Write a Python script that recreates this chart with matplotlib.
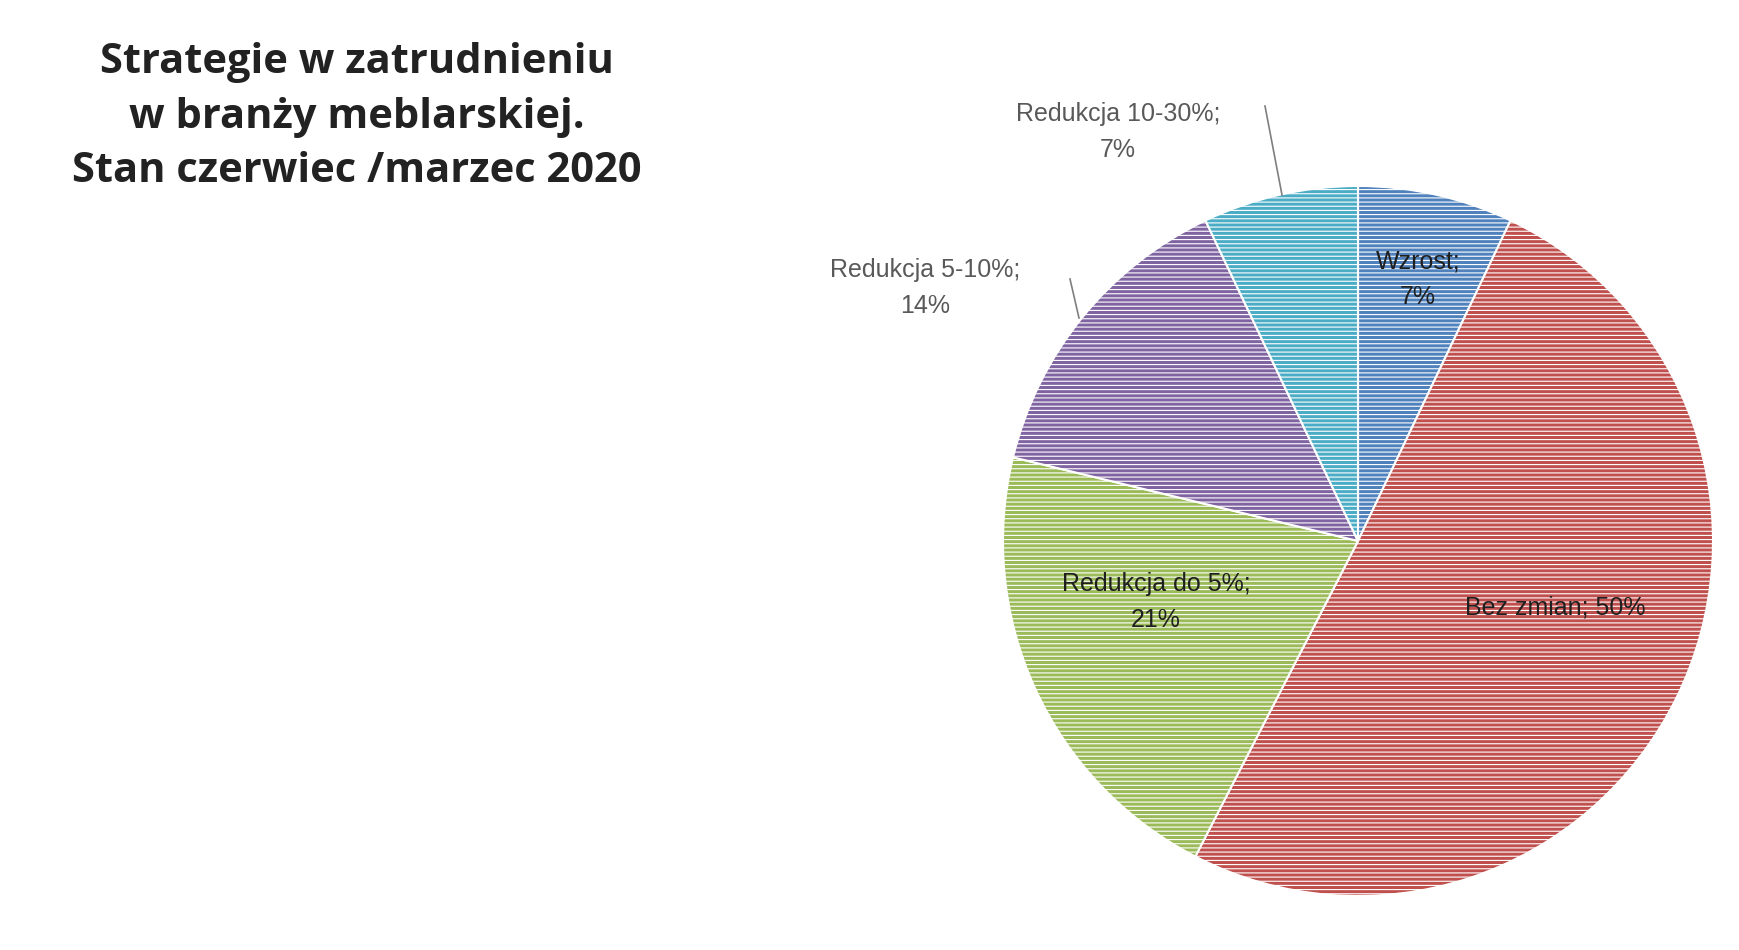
import matplotlib.pyplot as plt

# data
categories = ["Wzrost", "Bez zmian", "Redukcja do 5%", "Redukcja 5-10%", "Redukcja 10-30%"]
values = [7, 50, 21, 14, 7]
colors = ["#4F81BD", "#C0504D", "#9BBB59", "#8064A2", "#4BACC6"]

W, H = 1740, 950
fig = plt.figure(figsize=(W / 100, H / 100), dpi=100)
plt.rcParams["hatch.color"] = (1, 1, 1, 0.35)
plt.rcParams["hatch.linewidth"] = 0.8

# pie centre (1358, 541) px, radius 355 px
ax = fig.add_axes([(1358 - 355) / W, (H - 541 - 355) / H, 710 / W, 710 / H])
wedges, _ = ax.pie(values, colors=colors, startangle=90, counterclock=False,
                   wedgeprops=dict(edgecolor="white", linewidth=1.5, hatch="----"))
ax.set_xlim(-1, 1)
ax.set_ylim(-1, 1)
ax.set_aspect("equal")


def px(x, y):
    return x / W, 1 - y / H


labels = [
    ("Wzrost;\n7%", 1418, 279, "#1F1F1F"),
    ("Bez zmian; 50%", 1555, 608, "#1F1F1F"),
    ("Redukcja do 5%;\n21%", 1156, 602, "#1F1F1F"),
    ("Redukcja 5-10%;\n14%", 925, 288, "#595959"),
    ("Redukcja 10-30%;\n7%", 1118, 132, "#595959"),
]
for (txt, x, y, c) in labels:
    fig.text(*px(x, y), txt, ha="center", va="center", fontsize=18,
             color=c, linespacing=1.6, family="Liberation Sans")

# leader lines
for (x0, y0, x1, y1) in [(1070, 279, 1079, 318), (1265, 106, 1282, 195)]:
    fig.add_artist(plt.Line2D([x0 / W, x1 / W], [1 - y0 / H, 1 - y1 / H],
                              color="#7F7F7F", lw=1.2))

fig.text(*px(357, 117), "Strategie w zatrudnieniu\nw branży meblarskiej.\nStan czerwiec /marzec 2020",
         ha="center", va="center", fontsize=30, fontweight="bold",
         color="#222222", linespacing=1.45, family="Open Sans")

fig.savefig("out.png", dpi=100)
